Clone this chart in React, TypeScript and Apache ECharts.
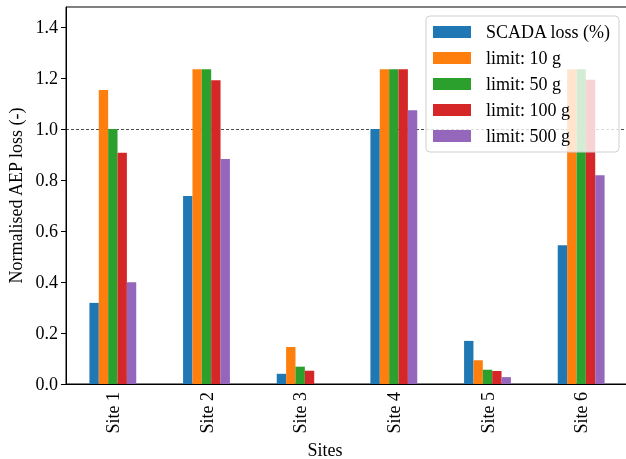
import React, { useEffect, useRef } from "react";
import * as echarts from "echarts";

const sites = ["Site 1", "Site 2", "Site 3", "Site 4", "Site 5", "Site 6"];
const seriesNames = ["SCADA loss (%)", "limit: 10 g", "limit: 50 g", "limit: 100 g", "limit: 500 g"];
const scadaLoss = [0.318, 0.737, 0.04, 1.0, 0.169, 0.544];
const limit10 = [1.153, 1.234, 0.145, 1.234, 0.093, 1.234];
const limit50 = [1.0, 1.234, 0.068, 1.234, 0.056, 1.234];
const limit100 = [0.907, 1.191, 0.052, 1.234, 0.051, 1.193];
const limit500 = [0.399, 0.882, 0, 1.073, 0.027, 0.818];
const yTicks = [0, 0.2, 0.4, 0.6, 0.8, 1.0, 1.2, 1.4];
const refLine = 1.0;

const colors = ["#1f77b4", "#ff7f0e", "#2ca02c", "#d62728", "#9467bd"];
const FONT = "'Liberation Serif', 'DejaVu Serif', serif";

export default function App() {
  const ref = useRef<HTMLDivElement>(null);
  useEffect(() => {
    if (!ref.current) return;
    const chart = echarts.init(ref.current, undefined, { renderer: "svg" });
    const allData = [scadaLoss, limit10, limit50, limit100, limit500];
    chart.setOption({
      animation: false,
      color: colors,
      grid: {
        left: 66,
        top: 7,
        right: -2,
        bottom: 75,
        containLabel: false,
        outerBoundsMode: "none",
        show: true,
        borderColor: "#000",
        borderWidth: 1,
        backgroundColor: "transparent",
      },
      legend: {
        orient: "vertical",
        right: 7,
        top: 16,
        itemWidth: 38,
        itemHeight: 12,
        itemGap: 8,
        padding: [7, 8, 7, 7],
        backgroundColor: "rgba(255,255,255,0.8)",
        borderColor: "#d0d0d0",
        borderWidth: 1,
        borderRadius: 4,
        icon: "rect",
        textStyle: { fontFamily: FONT, fontSize: 18, color: "#000", lineHeight: 18, padding: [0, 0, 0, 10] },
        data: seriesNames,
      },
      xAxis: {
        type: "category",
        data: sites,
        boundaryGap: true,
        axisLine: { lineStyle: { color: "#000", width: 1 } },
        axisTick: { alignWithLabel: true, length: 5, lineStyle: { color: "#000" } },
        axisLabel: { rotate: 90, margin: 8, fontFamily: FONT, fontSize: 18, color: "#000" },
        name: "Sites",
        nameLocation: "middle",
        nameGap: 57,
        nameTextStyle: { fontFamily: FONT, fontSize: 18, color: "#000", padding: [0, 44, 0, 0] },
        splitLine: { show: false },
      },
      yAxis: {
        type: "value",
        min: 0,
        max: 1.478,
        axisLine: { show: true, lineStyle: { color: "#000", width: 1 } },
        axisTick: { show: true, length: 5, lineStyle: { color: "#000" }, customValues: yTicks },
        axisLabel: {
          fontFamily: FONT,
          fontSize: 18,
          color: "#000",
          margin: 8,
          customValues: yTicks,
          formatter: (v: number) => v.toFixed(1),
        },
        splitLine: { show: false },
        name: "Normalised AEP loss (-)",
        nameLocation: "middle",
        nameGap: 40,
        nameTextStyle: { fontFamily: FONT, fontSize: 18, color: "#000" },
      },
      series: seriesNames.map((name, i) => ({
        name,
        type: "bar",
        data: allData[i],
        barGap: "0%",
        barCategoryGap: "50%",
        itemStyle: { color: colors[i] },
        z: 2,
        ...(i === 0
          ? {
              markLine: {
                silent: true,
                symbol: "none",
                z: 1,
                label: { show: false },
                lineStyle: { color: "#000", type: [3, 2], width: 0.7 },
                data: [{ yAxis: refLine }],
              },
            }
          : {}),
      })),
    });
    return () => chart.dispose();
  }, []);
  return <div ref={ref} style={{ position: "fixed", left: 0, top: 0, width: 626, height: 459 }} />;
}
